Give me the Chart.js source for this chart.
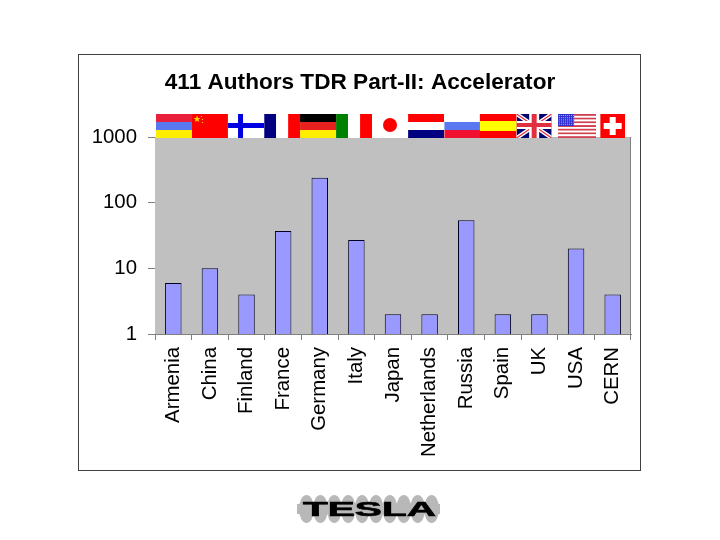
<!DOCTYPE html>
<html>
<head>
<meta charset="utf-8">
<style>html,body{margin:0;padding:0;background:#fff}#w{width:720px;height:540px}</style>
<script src="https://cdn.jsdelivr.net/npm/chart.js@4"></script>
</head>
<body>
<div id="w"><canvas id="c" width="720" height="540"></canvas></div>
<script>
const categories = ["Armenia","China","Finland","France","Germany","Italy","Japan","Netherlands","Russia","Spain","UK","USA","CERN"];
const authors = [6,10,4,37,241,27,2,2,54,2,2,20,4];
const yTicks = [1,10,100,1000];
const chartTitle = "411 Authors TDR Part-II: Accelerator";
const logoText = "TESLA";
const FONT = '"Liberation Sans", Arial, sans-serif';

function stripes(ctx,x,y,w,h,cols){cols.forEach((c,i)=>{ctx.fillStyle=c;ctx.fillRect(x,y+h*i/cols.length,w,h/cols.length);});}
function vstripes(ctx,x,y,w,h,cols){cols.forEach((c,i)=>{ctx.fillStyle=c;ctx.fillRect(x+w*i/cols.length,y,w/cols.length,h);});}
const flags = {
  Armenia:(c,x,y,w,h)=>stripes(c,x,y,w,h,["#e8203a","#5a78f0","#ffee00"]),
  China:(c,x,y,w,h)=>{c.fillStyle="#ff0000";c.fillRect(x,y,w,h);c.fillStyle="#ffdd00";c.font="9px "+FONT;c.textAlign="center";c.textBaseline="middle";c.fillText("★",x+5,y+6);c.fillRect(x+9,y+2,1,1);c.fillRect(x+10,y+5,1,1);c.fillRect(x+10,y+8,1,1);},
  Finland:(c,x,y,w,h)=>{c.fillStyle="#fff";c.fillRect(x,y,w,h);c.fillStyle="#0000e0";c.fillRect(x,y+9,w,5);c.fillRect(x+10,y,5,h);},
  France:(c,x,y,w,h)=>vstripes(c,x,y,w,h,["#000080","#ffffff","#ff0000"]),
  Germany:(c,x,y,w,h)=>stripes(c,x,y,w,h,["#000000","#e82020","#ffee00"]),
  Italy:(c,x,y,w,h)=>vstripes(c,x,y,w,h,["#008000","#ffffff","#ff0000"]),
  Japan:(c,x,y,w,h)=>{c.fillStyle="#fff";c.fillRect(x,y,w,h);c.fillStyle="#ff0000";c.beginPath();c.arc(x+w/2,y+h/2-1,7,0,Math.PI*2);c.fill();},
  Netherlands:(c,x,y,w,h)=>stripes(c,x,y,w,h,["#ff0000","#ffffff","#000080"]),
  Russia:(c,x,y,w,h)=>stripes(c,x,y,w,h,["#ffffff","#5a78f0","#f01030"]),
  Spain:(c,x,y,w,h)=>{c.fillStyle="#ff0000";c.fillRect(x,y,w,h);c.fillStyle="#ffff00";c.fillRect(x,y+7,w,10);},
  UK:(c,x,y,w,h)=>{c.fillStyle="#000070";c.fillRect(x,y,w,h);c.strokeStyle="#fff";c.lineWidth=4;c.beginPath();c.moveTo(x,y);c.lineTo(x+w,y+h);c.moveTo(x+w,y);c.lineTo(x,y+h);c.stroke();c.strokeStyle="#e03040";c.lineWidth=1.2;c.stroke();c.fillStyle="#fff";c.fillRect(x,y+7,w,8);c.fillRect(x+w/2-5,y,10,h);c.fillStyle="#e03040";c.fillRect(x,y+9,w,4);c.fillRect(x+w/2-2.5,y,5,h);},
  USA:(c,x,y,w,h)=>{for(let i=0;i<7;i++){c.fillStyle="#d04050";c.fillRect(x,y+i*3.7,w,1.9);c.fillStyle="#fff";c.fillRect(x,y+i*3.7+1.9,w,1.8);}c.fillStyle="#3030d0";c.fillRect(x,y,16,12);c.fillStyle="#b0b0ff";for(let i=0;i<8;i++)for(let j=0;j<5;j++)c.fillRect(x+1+i*2,y+1+j*2.2,1,1);},
  CERN:(c,x,y,w,h)=>{c.fillStyle="#ff0000";c.fillRect(x,y,w,h);c.fillStyle="#fff";c.fillRect(x+w/2-9,y+h/2-3,18,6);c.fillRect(x+w/2-3,y+h/2-9,6,18);}
};
const flagWidths = [36,36,36,36,36,36,36,36,36,37,35,38,25];
const flagOffsets = [0.7,0,-0.5,-1,-1.7,-2.3,-3,-3.5,-4,-4.7,-5.3,1,0];

const decor = {
  id:"decor",
  beforeDatasetsDraw(ch){
    const a=ch.chartArea,c=ch.ctx;
    c.save();c.fillStyle="#c0c0c0";c.fillRect(a.left,a.top,a.right-a.left,a.bottom-a.top);c.restore();
  },
  beforeDraw(ch){
    const c=ch.ctx;c.save();c.fillStyle="#fff";c.fillRect(0,0,720,540);
    c.strokeStyle="#404040";c.lineWidth=1;c.strokeRect(78.5,54.5,562,416);c.restore();
  },
  afterDraw(ch){
    const a=ch.chartArea,c=ch.ctx,xs=ch.scales.x;
    c.save();
    c.strokeStyle="#808080";c.lineWidth=1;
    c.beginPath();c.moveTo(Math.round(a.right)-.5,a.top);c.lineTo(Math.round(a.right)-.5,a.bottom);c.stroke();
    categories.forEach((n,i)=>{
      const w=flagWidths[i],x=xs.getPixelForValue(i)-w/2+flagOffsets[i];
      c.save();c.beginPath();c.rect(x,114,w,24);c.clip();flags[n](c,x,114,w,24);c.restore();
    });
    // TESLA logo
    c.fillStyle="#b8b8b8";
    for(let i=0;i<10;i++){c.beginPath();c.ellipse(306.5+i*13.9,509,7.5,14,0,0,Math.PI*2);c.fill();}
    c.fillRect(297,504,143,10);
    c.fillStyle="#000";c.strokeStyle="#000";c.lineWidth=0.6;c.font="bold 20px "+FONT;c.textAlign="left";c.textBaseline="alphabetic";
    const m=c.measureText(logoText).width;
    c.translate(303,516);c.scale(133/m,1);c.fillText(logoText,0,0);c.strokeText(logoText,0,0);
    c.restore();
  }
};

new Chart(document.getElementById("c"),{
  type:"bar",
  data:{labels:categories,datasets:[{data:authors,backgroundColor:"#9999ff",borderColor:"#000020",borderWidth:1,borderSkipped:"bottom",barPercentage:0.45,categoryPercentage:1}]},
  plugins:[decor],
  options:{
    responsive:false,animation:false,
    layout:{padding:{left:89,right:89,top:0,bottom:0}},
    plugins:{
      legend:{display:false},tooltip:{enabled:false},
      title:{display:true,text:chartTitle,color:"#000",font:{family:FONT,size:22.6,weight:"bold"},padding:{top:69,bottom:41}}
    },
    scales:{
      x:{
        grid:{display:true,drawOnChartArea:false,drawTicks:true,tickLength:6,color:"#808080",offset:true},
        border:{color:"#808080"},
        ticks:{color:"#000",font:{family:FONT,size:20.4},minRotation:90,maxRotation:90,padding:7,autoSkip:false},
        afterFit(s){s.height=206;}
      },
      y:{
        type:"logarithmic",min:1,max:1000,
        grid:{color:"#808080",tickLength:7},
        border:{color:"#808080"},
        afterBuildTicks(s){s.ticks=yTicks.map(v=>({value:v}));},
        ticks:{color:"#000",font:{family:FONT,size:20.4},padding:11,callback:v=>String(v)},
        afterFit(s){s.width=66;}
      }
    }
  }
});
</script>
</body>
</html>
